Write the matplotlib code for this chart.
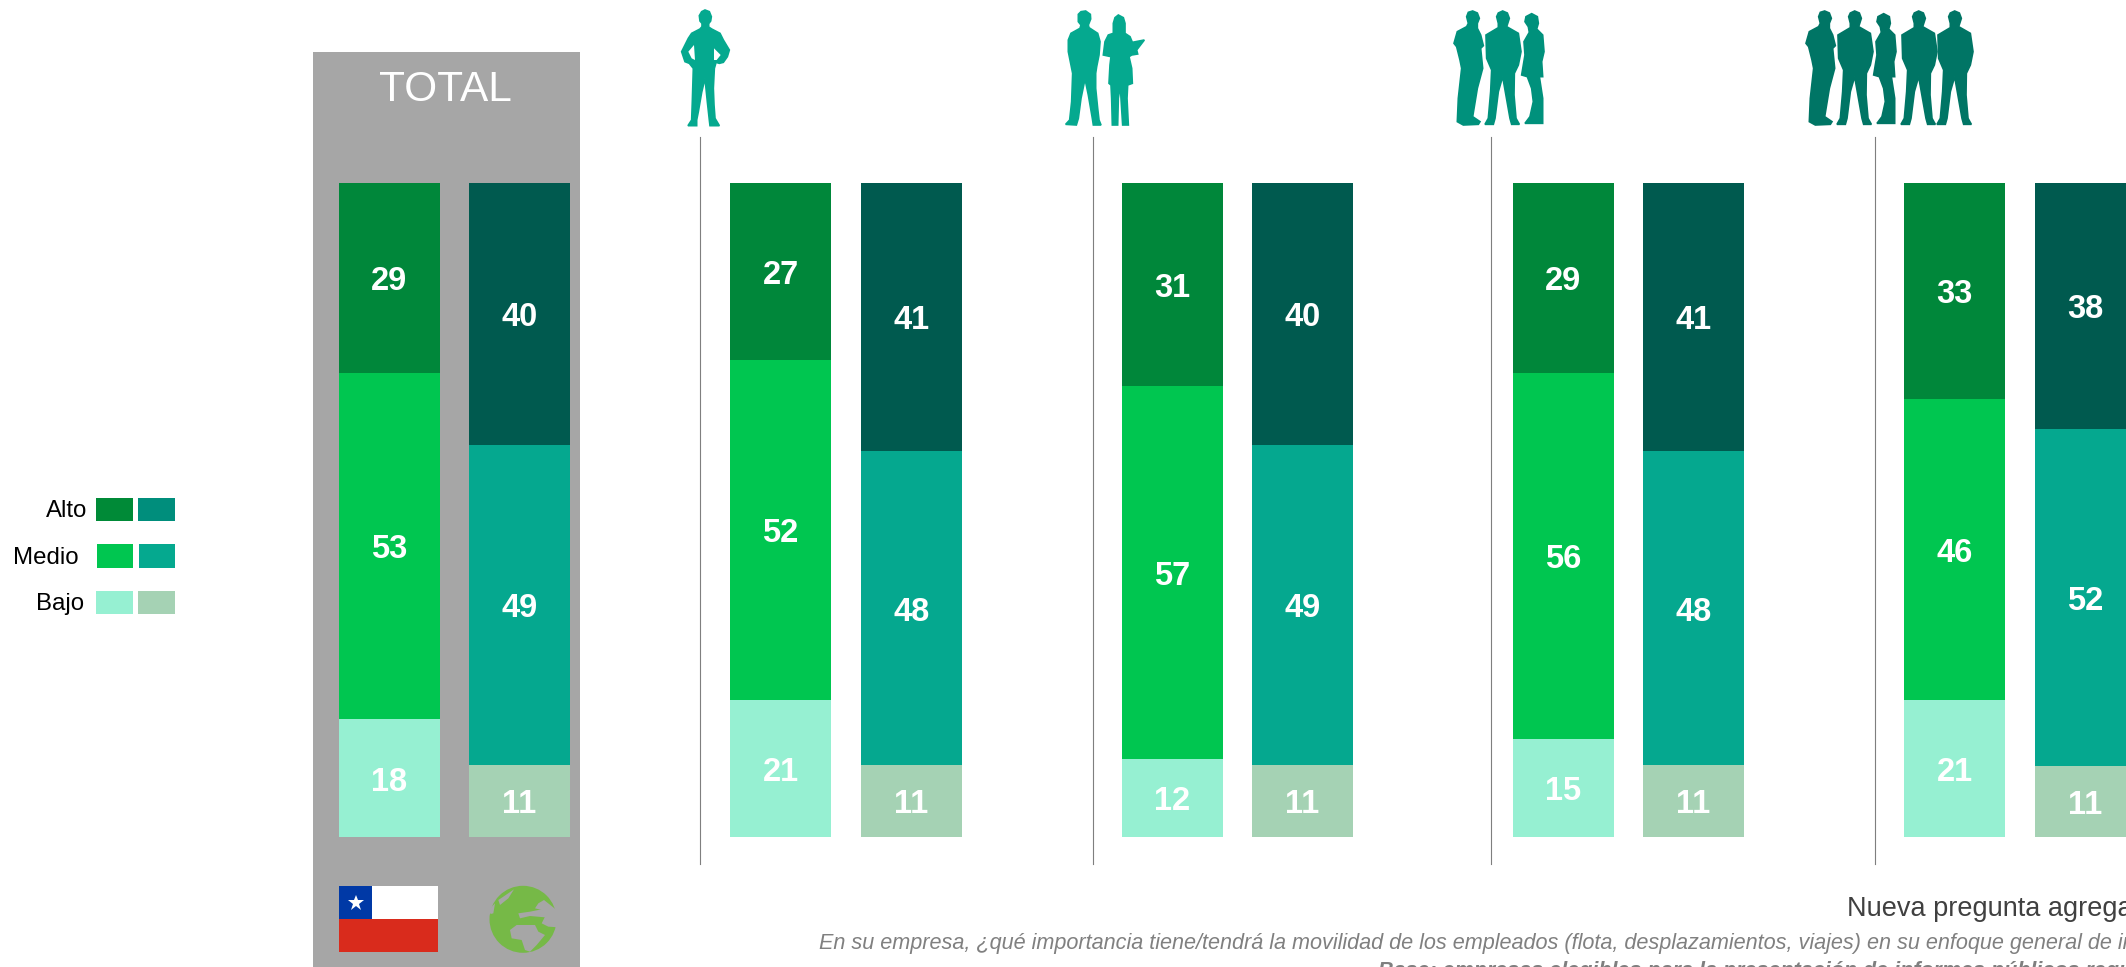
import matplotlib
matplotlib.use("Agg")
import matplotlib.pyplot as plt
from matplotlib.patches import Circle, Polygon, Rectangle

plt.rcParams['font.family'] = ['Liberation Sans', 'DejaVu Sans']

# values per group: total, then the four people groups
alto_pais = [29, 27, 31, 29, 33]
medio_pais = [53, 52, 57, 56, 46]
bajo_pais = [18, 21, 12, 15, 21]
alto_global = [40, 41, 40, 41, 38]
medio_global = [49, 48, 49, 48, 52]
bajo_global = [11, 11, 11, 11, 11]
niveles = ['Alto', 'Medio', 'Bajo']

W, H = 2126, 967
left_x = [389.5, 780.5, 1172, 1563.5, 1954.5]
right_x = [519.5, 911.5, 1302.5, 1693.5, 2085.5]
bar_w = 101
cols_pais = ['#00873A', '#00C650', '#96F0D2']
cols_global = ['#005A4F', '#05A88F', '#A5D2B4']

fig = plt.figure(figsize=(W / 100, H / 100), dpi=100, facecolor='white')
bg = fig.add_axes([0, 0, 1, 1])
bg.set_xlim(0, W)
bg.set_ylim(H, 0)
bg.axis('off')

# grey total panel
bg.add_patch(Rectangle((313, 52), 267, H - 52, color='#A6A6A6', lw=0))
bg.text(445, 90, 'TOTAL', color='white', fontsize=30.5, ha='center', va='center')

# separators
for x in [700, 1093, 1491, 1875]:
    bg.plot([x, x], [137, 864], color='#7F7F7F', lw=0.8)

# bars, one axes from 100 (top) to 0 (bottom)
ax = fig.add_axes([0, 1 - 837 / H, 1, (837 - 183) / H])
ax.set_xlim(0, W)
ax.set_ylim(0, 100)
ax.axis('off')


def stack(xs, alto, medio, bajo, cols):
    for x, a, m, b in zip(xs, alto, medio, bajo):
        total = a + m + b
        top = 100
        for v, c in zip([a, m, b], cols):
            h = v * 100 / total
            ax.bar(x, h, bottom=top - h, width=bar_w, color=c, lw=0)
            ax.text(x, top - h / 2 - 0.6, str(v), color='white', fontsize=23.5,
                    fontweight='bold', ha='center', va='center')
            top -= h


stack(left_x, alto_pais, medio_pais, bajo_pais, cols_pais)
stack(right_x, alto_global, medio_global, bajo_global, cols_global)

# legend
leg_y = [(498, 521), (544, 568), (591, 614)]
leg_l = [(96, 133, 138, 175), (97, 133, 139, 175), (96, 133, 138, 175)]
leg_c1 = ['#008A37', '#00C650', '#96F0D2']
leg_c2 = ['#008E7C', '#05A98F', '#A5D2B4']
leg_tx = [87, 79, 84]
for i, n in enumerate(niveles):
    y0, y1 = leg_y[i]
    a, b, c, d = leg_l[i]
    bg.add_patch(Rectangle((a, y0), b - a, y1 - y0, color=leg_c1[i], lw=0))
    bg.add_patch(Rectangle((c, y0), d - c, y1 - y0, color=leg_c2[i], lw=0))
    bg.text(leg_tx[i], (y0 + y1) / 2 + 1.5, n, color='black', fontsize=17.3, ha='right', va='center')

# chile flag
bg.add_patch(Rectangle((339, 886), 99, 33, color='white', lw=0))
bg.add_patch(Rectangle((339, 919), 99, 33, color='#D92B1C', lw=0))
bg.add_patch(Rectangle((339, 886), 33, 33, color='#0039A6', lw=0))
bg.plot([355.5], [902.5], marker='*', ms=12, color='white', mew=0)

# globe
GREEN = '#76B947'
GREY = '#A6A6A6'
bg.add_patch(Circle((523, 919.3), 33.5, color=GREEN, lw=0))
sea = [
    [(70, 50), (102, 28), (85, 55), (60, 75), (55, 60)],
    [(26, 90), (45, 70), (40, 100), (32, 102)],
    [(115, 100), (150, 95), (185, 88), (200, 100), (195, 112), (150, 108), (120, 115)],
    [(90, 150), (110, 135), (165, 135), (175, 155), (195, 165), (170, 195), (150, 215), (135, 210), (125, 180), (95, 175)],
    [(192, 60), (236, 95), (236, 142), (205, 140), (185, 130), (195, 110), (185, 90), (165, 85), (175, 70)],
]
for s in sea:
    bg.add_patch(Polygon([(480 + x / 3, 880 + y / 3) for x, y in s], color=GREY, lw=0))

MAN_HIPS = [(105, 15), (118, 20), (124, 35), (122, 48), (116, 56), (116, 66), (125, 72), (150, 85), (160, 105),
            (178, 135), (172, 155), (160, 172), (148, 175), (138, 172), (136, 180), (133, 190), (130, 250),
            (132, 300), (135, 340), (148, 362), (120, 362), (118, 345), (112, 290), (105, 220), (95, 262),
            (85, 320), (80, 345), (80, 362), (54, 362), (65, 345), (67, 290), (70, 190), (58, 175), (45, 170),
            (35, 140), (55, 100), (65, 85), (90, 72), (96, 65), (96, 55), (90, 48), (88, 32), (95, 20)]
HOLES = [[(72, 120), (55, 140), (65, 160), (75, 165)], [(132, 130), (152, 150), (140, 165), (132, 165)]]
PAIR_MAN = [(92, 18), (106, 28), (107, 42), (100, 60), (102, 68), (128, 85), (135, 110), (132, 150), (125, 185),
            (122, 205), (122, 250), (128, 310), (132, 345), (138, 360), (115, 360), (112, 340), (100, 270),
            (90, 222), (78, 280), (70, 340), (64, 360), (32, 358), (44, 345), (50, 290), (53, 205), (48, 180),
            (40, 140), (40, 105), (48, 85), (75, 70), (78, 60), (70, 50), (70, 28), (78, 20)]
PAIR_WOMAN = [(190, 30), (205, 38), (210, 55), (210, 85), (225, 95), (232, 112), (268, 105), (245, 135), (248, 147),
              (230, 150), (222, 155), (230, 190), (232, 235), (218, 240), (216, 280), (220, 360), (203, 360),
              (198, 280), (196, 240), (190, 280), (188, 360), (172, 360), (170, 280), (168, 240), (162, 235),
              (165, 180), (168, 155), (145, 150), (150, 110), (160, 90), (175, 85), (175, 55), (180, 38)]
SIDE_MAN = [(68, 18), (82, 24), (88, 40), (82, 55), (82, 70), (92, 90), (100, 122), (92, 130), (98, 190), (82, 250),
            (68, 335), (90, 350), (85, 358), (40, 360), (22, 350), (25, 280), (35, 190), (30, 165), (20, 125),
            (12, 115), (22, 80), (50, 65), (55, 55), (50, 35), (55, 22)]
FRONT_MAN = [(158, 18), (172, 24), (178, 40), (170, 65), (205, 85), (213, 140), (205, 180), (193, 205), (192, 270),
             (198, 340), (208, 358), (185, 358), (180, 340), (158, 215), (145, 260), (135, 340), (130, 358),
             (105, 358), (115, 340), (122, 260), (125, 195), (110, 160), (108, 90), (145, 68), (145, 55), (140, 35),
             (145, 24)]
WOMAN = [(245, 26), (262, 35), (265, 55), (260, 72), (278, 90), (282, 140), (275, 170), (278, 215), (268, 215),
         (278, 280), (278, 340), (278, 355), (225, 355), (240, 335), (250, 290), (245, 250), (232, 215), (215, 210),
         (225, 150), (222, 110), (238, 82), (235, 65), (225, 50), (228, 35)]


def person(shape, x0, color, y0=5, lw=1.2):
    bg.add_patch(Polygon([(x0 + x / 3, y0 + y / 3) for x, y in shape], facecolor=color, edgecolor=color, lw=lw))


C1, C2, C3 = '#05A98F', '#00917C', '#007565'
person(MAN_HIPS, 670, C1)
for h in HOLES:
    person(h, 670, 'white', lw=0)
person(PAIR_MAN, 1055, C1)
person(PAIR_WOMAN, 1055, C1)
person(SIDE_MAN, 1450, C2)
person(FRONT_MAN, 1450, C2)
person(WOMAN, 1450, C2)
person(SIDE_MAN, 1802, C3)
person(FRONT_MAN, 1802, C3)
person(WOMAN, 1802, C3)
person(FRONT_MAN, 1866, C3)
person(FRONT_MAN, 1902, C3)

# footnotes, they run off the picture
bg.text(1847, 916, 'Nueva pregunta agregada', color='#404040', fontsize=19.5, va='baseline', clip_on=False)
bg.text(819, 949, 'En su empresa, ¿qué importancia tiene/tendrá la movilidad de los empleados (flota, '
        'desplazamientos, viajes) en su enfoque general de informes?', color='#808080', fontsize=15.6,
        style='italic', va='baseline')
bg.text(1378, 977, 'Base: empresas elegibles para la presentación de informes públicos requeridos',
        color='#7F7F7F', fontsize=15.5, style='italic', fontweight='bold', va='baseline')

fig.savefig('out.png', dpi=100)
